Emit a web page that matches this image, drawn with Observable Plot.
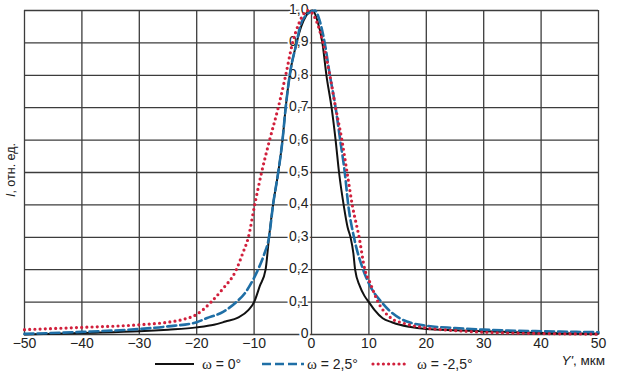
<!DOCTYPE html>
<html>
<head>
<meta charset="utf-8">
<script src="https://cdn.jsdelivr.net/npm/d3@7"></script>
<script src="https://cdn.jsdelivr.net/npm/@observablehq/plot@0.6"></script>
<style>
  html, body { margin: 0; padding: 0; background: #fff; }
  #chart svg { display: block; }
</style>
</head>
<body>
<div id="chart"></div>
<script>
// ---- data ----
const xTicks = [-50, -40, -30, -20, -10, 0, 10, 20, 30, 40, 50];
const yTicks = [0, 0.1, 0.2, 0.3, 0.4, 0.5, 0.6, 0.7, 0.8, 0.9, 1.0];
const yTickLabels = ["0", "0,1", "0,2", "0,3", "0,4", "0,5", "0,6", "0,7", "0,8", "0,9", "1,0"];

const seriesNames = ["ω = 0°", "ω = 2,5°", "ω = -2,5°"];

// ω = 0°
const w0Y = [-50, -40, -30, -25, -20, -17, -15, -12.8, -11, -10, -9, -8, -7.4, -6.7, -5.8, -5.05, -4.5, -3.8, -2.6, -1.8, -0.9, 0.2, 1, 1.9, 2.6, 3.5, 4.2, 4.8, 5.6, 6.3, 6.8, 7.3, 7.6, 8.4, 9.2, 10, 11, 12.4, 14, 15.4, 17, 20, 25, 30, 40, 50];
const w0I = [0, 0.005, 0.01, 0.015, 0.022, 0.03, 0.04, 0.052, 0.075, 0.1, 0.15, 0.2, 0.3, 0.4, 0.5, 0.6, 0.7, 0.8, 0.9, 0.95, 0.985, 1.0, 0.97, 0.9, 0.8, 0.7, 0.6, 0.5, 0.4, 0.33, 0.3, 0.25, 0.2, 0.15, 0.12, 0.1, 0.075, 0.05, 0.038, 0.03, 0.024, 0.017, 0.013, 0.01, 0.005, 0.002];

// ω = 2,5°
const w25Y = [-50, -40, -30, -25, -20, -18.3, -15.4, -13.1, -11.5, -10, -9.2, -8.2, -7.4, -6.7, -5.8, -5.05, -4.5, -3.8, -2.6, -2.0, -1.2, 0.6, 1.4, 2.3, 3.2, 4.2, 5.0, 5.8, 6.4, 7.4, 9.0, 10.2, 12.2, 13.5, 15.4, 17.5, 20, 25, 30, 40, 50];
const w25I = [0.002, 0.008, 0.017, 0.025, 0.038, 0.05, 0.07, 0.1, 0.13, 0.175, 0.205, 0.25, 0.3, 0.4, 0.5, 0.6, 0.7, 0.8, 0.9, 0.95, 0.98, 1.0, 0.97, 0.9, 0.8, 0.7, 0.6, 0.5, 0.4, 0.3, 0.2, 0.15, 0.1, 0.075, 0.05, 0.035, 0.027, 0.02, 0.015, 0.01, 0.007];

// ω = -2,5°
const wm25Y = [-50, -40, -30, -25, -22.5, -20, -17.5, -15.5, -13.1, -12, -11, -9.9, -8.7, -7.3, -5.8, -4.5, -3.3, -2.2, -0.6, 0.8, 2.0, 3.2, 4.2, 5.3, 6.2, 7.1, 8.3, 9.3, 10.2, 11.6, 13.9, 16, 20, 25, 30, 40, 50];
const wm25I = [0.015, 0.022, 0.03, 0.038, 0.046, 0.062, 0.1, 0.14, 0.2, 0.25, 0.3, 0.4, 0.5, 0.6, 0.7, 0.8, 0.9, 0.96, 1.0, 0.97, 0.9, 0.8, 0.7, 0.6, 0.5, 0.4, 0.3, 0.2, 0.16, 0.1, 0.05, 0.035, 0.02, 0.012, 0.007, 0.003, 0.001];

const black = "#111111", blue = "#1f6fa6", red = "#d1203c";

const toRows = (xs, ys) => xs.map((x, i) => ({x, y: ys[i]}));
const d0 = toRows(w0Y, w0I);
const d25 = toRows(w25Y, w25I);
const dm25 = toRows(wm25Y, wm25I);
const yTickRows = yTicks.map((v, i) => ({v, label: yTickLabels[i]}));

const font = "'Liberation Sans', Arial, sans-serif";
const gridColor = "#3c3c3c";

const chart = Plot.plot({
  width: 622,
  height: 378,
  marginLeft: 24,
  marginRight: 24,
  marginTop: 10,
  marginBottom: 44,
  x: {domain: [-50, 50], axis: null},
  y: {domain: [0, 1], axis: null},
  style: {fontFamily: font, fontSize: "14px", background: "#fff", color: "#222"},
  marks: [
    Plot.ruleX(xTicks, {stroke: gridColor, strokeWidth: 1.3}),
    Plot.ruleY(yTicks, {stroke: gridColor, strokeWidth: 1.3}),
    Plot.axisX({ticks: xTicks, tickSize: 0, tickPadding: 4, fontSize: 14, label: null, fill: "#222"}),
    Plot.text(yTickRows, {x: 0, y: "v", text: "label", textAnchor: "end", dx: -3, dy: -1,
      fontSize: 14, fill: "#222", stroke: "#fff", strokeWidth: 4, paintOrder: "stroke"}),
    Plot.line(d0, {x: "x", y: "y", stroke: black, strokeWidth: 2, curve: "monotone-x"}),
    Plot.line(d25, {x: "x", y: "y", stroke: blue, strokeWidth: 2.6, strokeDasharray: "9,4", curve: "monotone-x"}),
    Plot.line(dm25, {x: "x", y: "y", stroke: red, strokeWidth: 3.2, strokeDasharray: "0,5.2", strokeLinecap: "round", curve: "monotone-x"})
  ]
});

const svg = d3.select(chart);

// Y axis label (rotated)
const yl = svg.append("text")
  .attr("transform", "translate(15,170) rotate(-90)")
  .attr("text-anchor", "middle")
  .attr("font-family", font)
  .attr("font-size", 12.5)
  .attr("fill", "#222");
yl.append("tspan").attr("font-style", "italic").text("I");
yl.append("tspan").text(", отн. ед.");

// X axis label
const xl = svg.append("text")
  .attr("x", 605).attr("y", 365)
  .attr("text-anchor", "end")
  .attr("font-family", font)
  .attr("font-size", 13.5)
  .attr("fill", "#222");
xl.append("tspan").attr("font-style", "italic").text("Y'");
xl.append("tspan").text(", мкм");

// Legend
const legendItems = [
  {name: seriesNames[0], color: black, width: 2, dash: null, cap: "butt", x0: 155, x1: 194, tx: 202},
  {name: seriesNames[1], color: blue, width: 2.6, dash: "9,4", cap: "butt", x0: 262, x1: 304, tx: 307},
  {name: seriesNames[2], color: red, width: 3.2, dash: "0,5.2", cap: "round", x0: 373, x1: 408, tx: 417}
];
const ly = 364;
for (const it of legendItems) {
  const ln = svg.append("line")
    .attr("x1", it.x0).attr("x2", it.x1).attr("y1", ly).attr("y2", ly)
    .attr("stroke", it.color).attr("stroke-width", it.width)
    .attr("stroke-linecap", it.cap);
  if (it.dash) ln.attr("stroke-dasharray", it.dash);
  const t = svg.append("text")
    .attr("x", it.tx).attr("y", ly + 5)
    .attr("text-anchor", "start")
    .attr("font-family", font).attr("font-size", 14).attr("fill", "#222");
  t.append("tspan").attr("font-family", "'Liberation Serif', 'Times New Roman', serif").attr("font-size", 15).text(it.name.slice(0, 1));
  t.append("tspan").text(it.name.slice(1));
}

document.getElementById("chart").appendChild(chart);
</script>
</body>
</html>
